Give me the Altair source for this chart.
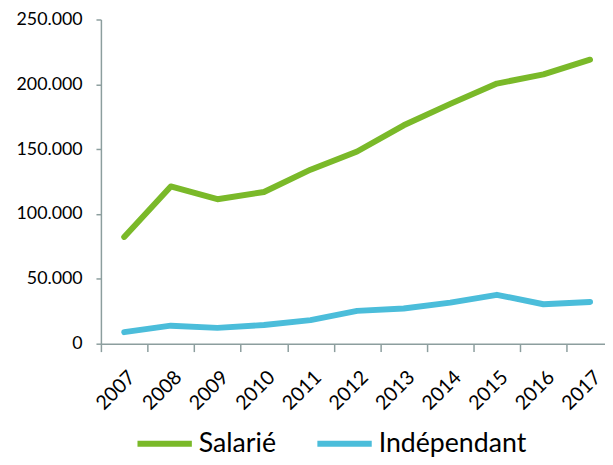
import altair as alt
import pandas as pd

years = [2007, 2008, 2009, 2010, 2011, 2012, 2013, 2014, 2015, 2016, 2017]
salarie = [82300, 121300, 111400, 117000, 134200, 148200, 168400, 184900, 200600, 207700, 219000]
independant = [8900, 13900, 12200, 14400, 18200, 25300, 27100, 31700, 37700, 30400, 32200]
series_names = ["Salarié", "Indépendant"]
series_colors = ["#7AB929", "#4BBDDA"]
y_ticks = [0, 50000, 100000, 150000, 200000, 250000]

rows = []
for name, vals in zip(series_names, [salarie, independant]):
    for yr, v in zip(years, vals):
        rows.append({"year": yr, "value": v, "serie": name})
df = pd.DataFrame(rows)

FONT = "Lato"
AXIS_COLOR = "#8C9E9E"
PLOT_W = 510
PLOT_H = 328
BAND = 47.13
x_min = 2006.5
x_max = x_min + PLOT_W / BAND
half_band = BAND / 2

chart = alt.Chart(df).mark_line(
    strokeWidth=6, strokeCap="round", strokeJoin="round"
).encode(
    x=alt.X(
        "year:Q",
        scale=alt.Scale(domain=[x_min, x_max], nice=False, zero=False),
        axis=alt.Axis(
            title=None,
            values=years,
            format="d",
            grid=False,
            tickOffset=-half_band,
            labelOffset=half_band + 0.5,
            tickSize=8,
            tickWidth=1.5,
            tickColor=AXIS_COLOR,
            domainColor=AXIS_COLOR,
            domainWidth=1.5,
            labelAngle=315,
            labelAlign="right",
            labelBaseline="top",
            labelPadding=15.5,
            labelFont=FONT,
            labelFontSize=20,
            labelColor="#000000",
            labelFlush=False,
            labelOverlap=False,
            labelBound=False,
        ),
    ),
    y=alt.Y(
        "value:Q",
        scale=alt.Scale(domain=[0, 250000], nice=False),
        axis=alt.Axis(
            title=None,
            values=y_ticks,
            labelExpr="replace(format(datum.value, ',d'), ',', '.')",
            grid=False,
            tickSize=5,
            tickWidth=1.5,
            tickColor=AXIS_COLOR,
            domainColor=AXIS_COLOR,
            domainWidth=1.5,
            labelPadding=14,
            labelFont=FONT,
            labelFontSize=18,
            labelColor="#000000",
            labelFlush=False,
        ),
    ),
    color=alt.Color(
        "serie:N",
        sort=series_names,
        scale=alt.Scale(domain=series_names, range=series_colors),
        legend=alt.Legend(
            title=None,
            orient="none",
            direction="horizontal",
            legendX=34,
            legendY=398.5,
            symbolType="stroke",
            symbolSize=3025,
            symbolStrokeWidth=6,
            labelFont=FONT,
            labelFontSize=27,
            labelColor="#000000",
            labelOffset=4,
            columnPadding=29,
            padding=0,
            labelLimit=400,
        ),
    ),
).properties(
    width=PLOT_W,
    height=PLOT_H,
    autosize=alt.AutoSizeParams(type="none"),
    padding={"left": 94, "top": 9, "right": 0, "bottom": 112},
).configure_view(stroke=None)

chart.save("out.html", embed_options={"renderer": "svg", "actions": False})
